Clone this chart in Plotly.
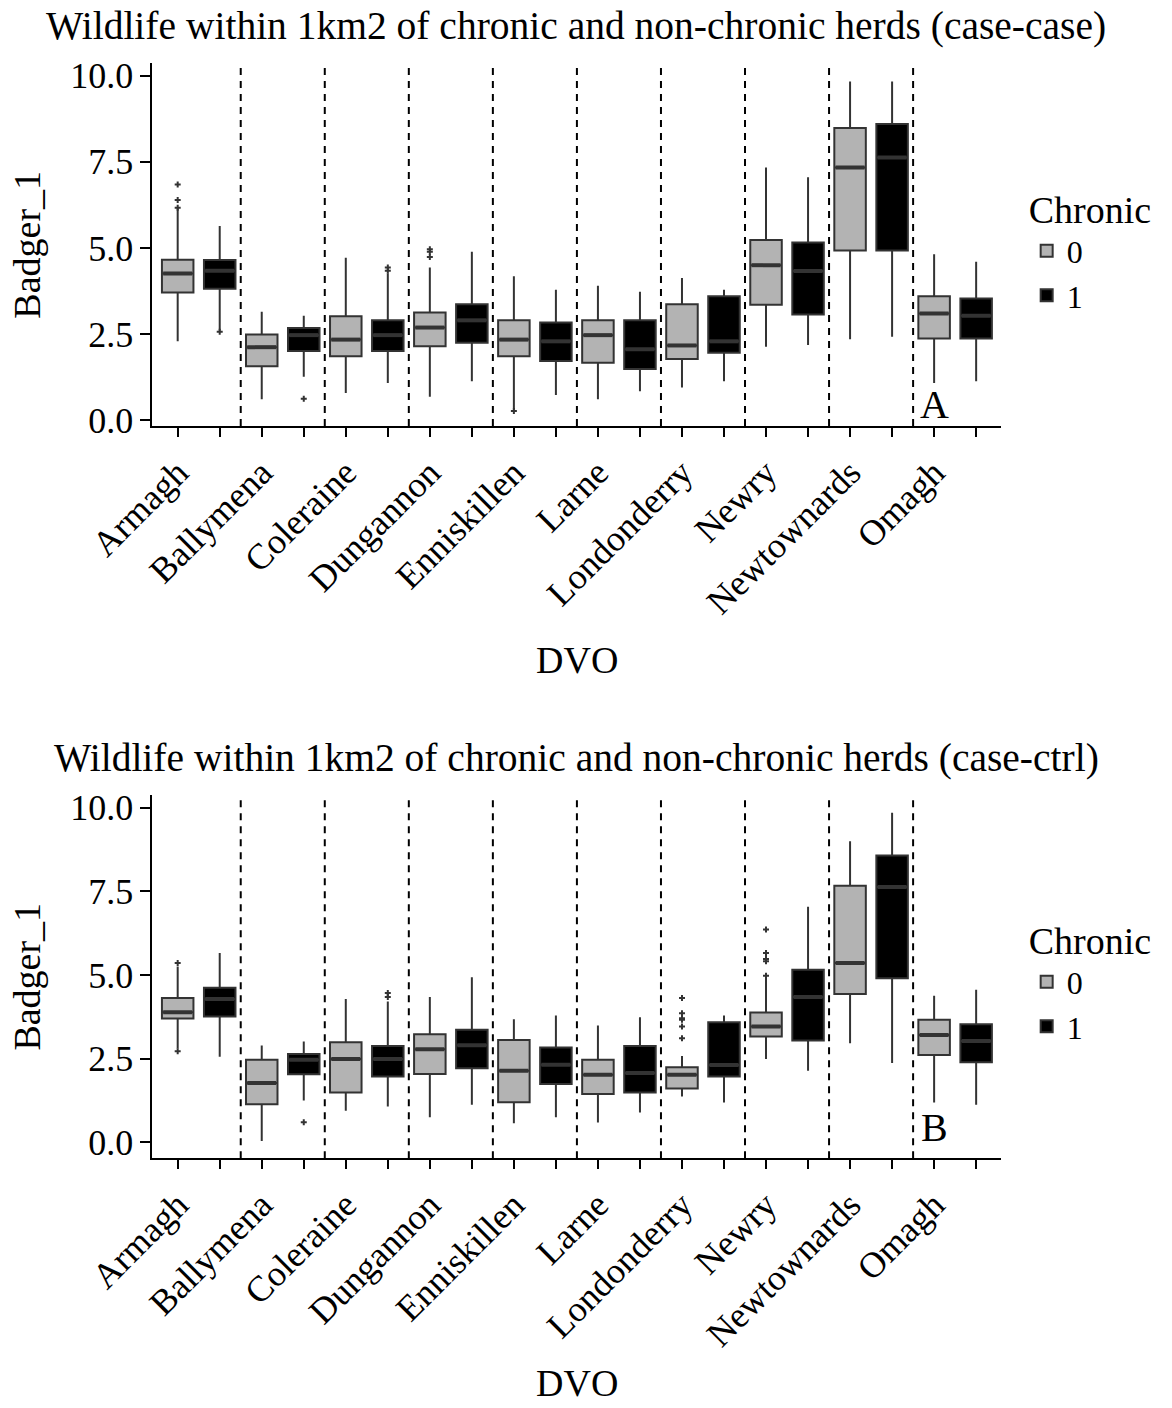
import plotly.graph_objects as go

# ---------------------------------------------------------------- data
dvo = ["Armagh", "Ballymena", "Coleraine", "Dungannon", "Enniskillen",
       "Larne", "Londonderry", "Newry", "Newtownards", "Omagh"]

# Panel A: case-case  (Badger_1 box statistics per DVO)
a0_low = [2.29, 0.61, 0.79, 0.68, 0.30, 0.61, 0.95, 2.13, 2.35, 1.08]
a0_q1 = [3.71, 1.57, 1.86, 2.15, 1.86, 1.67, 1.78, 3.35, 4.93, 2.37]
a0_med = [4.26, 2.12, 2.34, 2.69, 2.34, 2.47, 2.17, 4.50, 7.34, 3.10]
a0_q3 = [4.66, 2.49, 3.02, 3.13, 2.90, 2.90, 3.37, 5.23, 8.48, 3.60]
a0_high = [6.15, 3.15, 4.72, 4.43, 4.18, 3.90, 4.13, 7.34, 9.83, 4.82]
a0_out = {"Armagh": [6.17, 6.39, 6.84], "Dungannon": [4.74, 4.89, 4.96],
          "Enniskillen": [0.27]}

a1_low = [2.60, 1.26, 1.08, 1.13, 0.73, 0.84, 1.13, 2.18, 2.42, 1.13]
a1_q1 = [3.82, 2.01, 2.01, 2.25, 1.72, 1.49, 1.96, 3.07, 4.93, 2.37]
a1_med = [4.34, 2.47, 2.47, 2.90, 2.29, 2.06, 2.29, 4.33, 7.63, 3.03]
a1_q3 = [4.65, 2.68, 2.90, 3.37, 2.84, 2.90, 3.60, 5.16, 8.60, 3.53]
a1_high = [5.64, 3.03, 4.26, 4.89, 3.79, 3.73, 3.79, 7.05, 9.83, 4.60]
a1_out = {"Armagh": [2.57], "Ballymena": [0.62], "Coleraine": [4.34, 4.43]}

# Panel B: case-ctrl
b0_low = [2.80, 0.04, 0.94, 0.75, 0.57, 0.59, 1.37, 2.49, 2.96, 1.19]
b0_q1 = [3.70, 1.14, 1.49, 2.04, 1.20, 1.44, 1.61, 3.16, 4.43, 2.61]
b0_med = [3.89, 1.77, 2.49, 2.78, 2.14, 2.02, 2.02, 3.46, 5.36, 3.21]
b0_q3 = [4.31, 2.47, 2.99, 3.23, 3.06, 2.47, 2.24, 3.88, 7.67, 3.66]
b0_high = [5.25, 2.89, 4.28, 4.34, 3.68, 3.49, 2.58, 4.98, 9.00, 4.38]
b0_out = {"Armagh": [2.72, 5.36],
          "Londonderry": [3.11, 3.46, 3.66, 3.71, 3.86, 4.31],
          "Newry": [4.98, 5.41, 5.48, 5.66, 6.36]}

b1_low = [2.56, 1.25, 1.07, 1.12, 0.75, 0.89, 1.19, 2.14, 2.37, 1.12]
b1_q1 = [3.76, 2.03, 1.97, 2.21, 1.74, 1.49, 1.97, 3.04, 4.90, 2.39]
b1_med = [4.28, 2.47, 2.49, 2.90, 2.32, 2.07, 2.31, 4.34, 7.63, 3.03]
b1_q3 = [4.62, 2.64, 2.88, 3.36, 2.83, 2.88, 3.59, 5.16, 8.57, 3.53]
b1_high = [5.66, 3.01, 4.21, 4.93, 3.79, 3.74, 3.79, 7.04, 9.85, 4.56]
b1_out = {"Ballymena": [0.60], "Coleraine": [4.34, 4.46]}

chronic_levels = ["0", "1"]
y_ticks = [0.0, 2.5, 5.0, 7.5, 10.0]

# ---------------------------------------------------------------- style
FONT = "Liberation Serif, Times New Roman, serif"
FILL = {"0": "#B3B3B3", "1": "#000000"}
EDGE = "#333333"
BOX_W = 0.75

# each DVO occupies two slots on the x axis: Chronic 0 then Chronic 1
n = len(dvo)
pos0 = [2 * i + 1 for i in range(n)]
pos1 = [2 * i + 2 for i in range(n)]

panels = [
    dict(title="Wildlife within 1km2 of chronic and non-chronic herds (case-case)",
         tag="A", xa="x", ya="y", legend="legend",
         stats={"0": (a0_low, a0_q1, a0_med, a0_q3, a0_high, a0_out),
                "1": (a1_low, a1_q1, a1_med, a1_q3, a1_high, a1_out)},
         yrange=[-0.17, 10.36], domain=[0.6974, 0.9550],
         xtitle_y=1 - 660 / 1408),
    dict(title="Wildlife within 1km2 of chronic and non-chronic herds (case-ctrl)",
         tag="B", xa="x2", ya="y2", legend="legend2",
         stats={"0": (b0_low, b0_q1, b0_med, b0_q3, b0_high, b0_out),
                "1": (b1_low, b1_q1, b1_med, b1_q3, b1_high, b1_out)},
         yrange=[-0.48, 10.38], domain=[0.1773, 0.4354],
         xtitle_y=1 - 1383 / 1408),
]

fig = go.Figure()
annotations = []
shapes = []

for p in panels:
    for lvl, xs in zip(chronic_levels, [pos0, pos1]):
        low, q1, med, q3, high, out = p["stats"][lvl]
        fig.add_trace(go.Box(
            x=xs, q1=q1, median=med, q3=q3, lowerfence=low, upperfence=high,
            name=lvl, legend=p["legend"], legendgroup=p["legend"] + lvl,
            width=BOX_W, whiskerwidth=0, boxpoints=False,
            fillcolor=FILL[lvl], line=dict(color=EDGE, width=2),
            xaxis=p["xa"], yaxis=p["ya"], hoverinfo="skip",
        ))
        # heavier median bar, as in ggplot boxplots
        mx, my = [], []
        for x, m in zip(xs, med):
            mx += [x - BOX_W / 2 + 0.03, x + BOX_W / 2 - 0.03, None]
            my += [m, m, None]
        fig.add_trace(go.Scatter(
            x=mx, y=my, mode="lines", showlegend=False,
            line=dict(color=EDGE, width=4),
            xaxis=p["xa"], yaxis=p["ya"], hoverinfo="skip",
        ))
        ox, oy = [], []
        for i, name in enumerate(dvo):
            for v in out.get(name, []):
                ox.append(xs[i])
                oy.append(v)
        if ox:
            fig.add_trace(go.Scatter(
                x=ox, y=oy, mode="markers", showlegend=False,
                marker=dict(symbol="cross", size=5, color=EDGE),
                xaxis=p["xa"], yaxis=p["ya"], hoverinfo="skip",
            ))

    # dashed separators between DVO groups
    for i in range(1, n):
        shapes.append(dict(
            type="line", xref=p["xa"], yref=p["ya"] + " domain",
            x0=2 * i + 0.5, x1=2 * i + 0.5, y0=0, y1=1,
            line=dict(color="black", width=2, dash="7px,6px"), layer="below",
        ))

    top = p["domain"][1]
    bottom = p["domain"][0]
    mid = (top + bottom) / 2
    annotations += [
        dict(text=p["title"], xref="paper", yref="paper", x=0.4915,
             y=top + 0.0262, xanchor="center", yanchor="middle",
             showarrow=False, font=dict(size=39.5, color="black", family=FONT)),
        dict(text="Badger_1", xref="paper", yref="paper", x=0.023, y=mid,
             textangle=-90, xanchor="center", yanchor="middle",
             showarrow=False, font=dict(size=38, color="black", family=FONT)),
        dict(text="DVO", xref="paper", yref="paper", x=0.4922,
             y=p["xtitle_y"], xanchor="center", yanchor="middle",
             showarrow=False, font=dict(size=38, color="black", family=FONT)),
        dict(text=p["tag"], xref=p["xa"], yref=p["ya"], x=19, y=0.45,
             xanchor="center", yanchor="middle", showarrow=False,
             font=dict(size=40, color="black", family=FONT)),
    ]

tickvals = list(range(1, 2 * n + 1))
ticktext = []
for name in dvo:
    ticktext += [name, ""]

xaxis_common = dict(
    range=[0.4, 2 * n + 0.6], domain=[0.1301, 0.8544],
    tickmode="array", tickvals=tickvals, ticktext=ticktext, tickangle=-45,
    ticks="outside", ticklen=9, tickwidth=2, tickcolor="black",
    showline=True, linecolor="black", linewidth=2, showgrid=False,
    zeroline=False, automargin=False,
    tickfont=dict(size=36, color="black", family=FONT),
)
yaxis_common = dict(
    tickmode="array", tickvals=y_ticks,
    ticktext=[f"{v:.1f}" for v in y_ticks],
    ticks="outside", ticklen=10, tickwidth=2, tickcolor="black",
    showline=True, linecolor="black", linewidth=2, showgrid=False,
    zeroline=False, automargin=False,
    tickfont=dict(size=36, color="black", family=FONT),
)

legend_common = dict(
    xanchor="left", yanchor="top", x=0.876,
    bgcolor="rgba(0,0,0,0)", borderwidth=0, tracegroupgap=0,
    font=dict(size=32, color="black", family=FONT),
    title=dict(text="Chronic", font=dict(size=38, color="black", family=FONT)),
)

fig.update_layout(
    width=1172, height=1408,
    margin=dict(l=0, r=0, t=0, b=0),
    paper_bgcolor="white", plot_bgcolor="white",
    boxmode="overlay", showlegend=True,
    xaxis=dict(**xaxis_common, anchor="y"),
    yaxis=dict(**yaxis_common, range=panels[0]["yrange"],
               domain=panels[0]["domain"], anchor="x"),
    xaxis2=dict(**xaxis_common, anchor="y2"),
    yaxis2=dict(**yaxis_common, range=panels[1]["yrange"],
                domain=panels[1]["domain"], anchor="x2"),
    legend=dict(**legend_common, y=1 - 174 / 1408),
    legend2=dict(**legend_common, y=1 - 905 / 1408),
    annotations=annotations,
    shapes=shapes,
)

fig.write_html("out.html")
